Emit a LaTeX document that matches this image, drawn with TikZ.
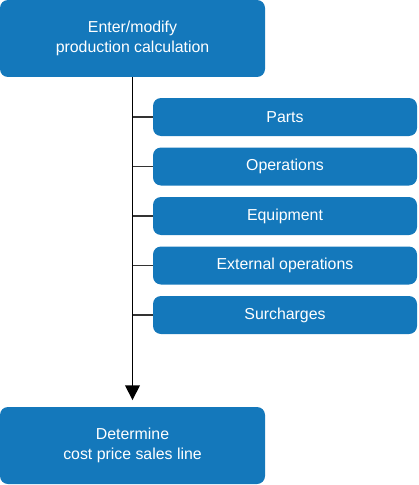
\documentclass[tikz,border=0pt]{standalone}
\usepackage{fontspec}
\setmainfont{Liberation Sans}
\usepackage{xcolor}
\usetikzlibrary{arrows.meta}

\definecolor{stepblue}{RGB}{20,120,187}

\begin{document}
\begin{tikzpicture}[x=0.75pt, y=-0.75pt,
  mainbox/.style={rectangle, fill=stepblue, rounded corners=6pt,
    minimum width=198.75pt, minimum height=57.75pt, align=center,
    text=white, font=\fontsize{11.9}{14.5}\selectfont, inner sep=0pt},
  subbox/.style={rectangle, fill=stepblue, rounded corners=6pt,
    minimum width=198pt, minimum height=28.5pt, align=center,
    text=white, font=\fontsize{11.9}{14.5}\selectfont, inner sep=0pt},
  arr/.style={-{Triangle[length=11pt, width=11pt]}, line width=1.1pt, shorten >=5pt},
  branch/.style={line width=1.1pt, draw=black!80}
]
  \useasboundingbox (0,0) rectangle (418,485);

  \node[mainbox] (calc)  at (132.5, 38.5)  {Enter/modify\\production calculation};
  \node[subbox]  (parts) at (285, 117)     {Parts};
  \node[subbox]  (ops)   at (285, 166.5)   {Operations};
  \node[subbox]  (equip) at (285, 216)     {Equipment};
  \node[subbox]  (extop) at (285, 265.5)   {External operations};
  \node[subbox]  (surch) at (285, 315)     {Surcharges};
  \node[mainbox] (cost)  at (132.5, 445.5) {Determine\\cost price sales line};

  \draw[arr] (calc) -- (cost);

  \foreach \n in {parts, ops, equip, extop, surch}
    \draw[branch] (\n.west) -- (\n.west -| calc.south);
\end{tikzpicture}
\end{document}
